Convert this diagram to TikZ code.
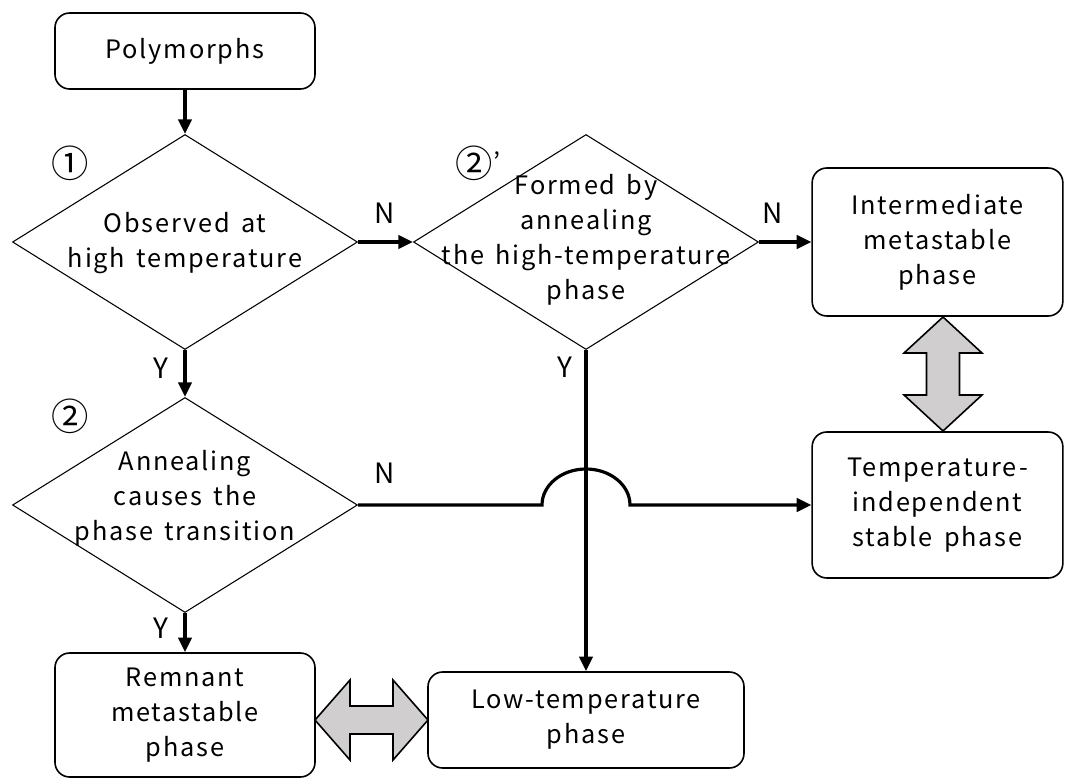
\documentclass[tikz,border=0pt]{standalone}
\usepackage{fontspec}
\setmainfont{Noto Sans CJK JP}[LetterSpace=7,WordSpace=1.5]
\usetikzlibrary{shapes.geometric,arrows.meta}
\definecolor{swapgray}{RGB}{208,206,206}

\tikzset{
  phasebox/.style={draw, rounded corners=11pt, line width=1.2pt, align=center,
    font=\fontsize{19}{26.25}\selectfont, inner sep=0pt},
  decision/.style={draw=black, diamond, line width=0.8pt, inner sep=0pt,
    minimum width=258.75pt, minimum height=161.25pt},
  dtext/.style={align=center, font=\fontsize{19}{26.25}\selectfont, inner sep=0pt},
  yn/.style={font=\fontsize{21}{24}\selectfont, inner sep=0pt},
  stepno/.style={font=\fontsize{28}{30}\selectfont, inner sep=0pt},
  flow/.style={line width=2.4pt, -{Triangle[length=11pt,width=10pt]}},
  swap/.style={draw, fill=swapgray, line width=1.2pt, line join=miter},
}

\begin{document}
\begin{tikzpicture}[x=0.75pt,y=-0.75pt]
  \useasboundingbox (0,0) rectangle (1065,778);

  % boxes
  \node[phasebox, minimum width=195pt, minimum height=57pt] (poly) at (185,51) {Polymorphs};
  \node[phasebox, minimum width=188pt, minimum height=111pt] (inter) at (937.5,242) {Intermediate\\metastable\\phase};
  \node[phasebox, minimum width=188pt, minimum height=109.5pt] (tind) at (937.5,505) {Temperature-\\independent\\stable phase};
  \node[phasebox, minimum width=195pt, minimum height=93pt] (rem) at (185,715) {Remnant\\metastable\\phase};
  \node[phasebox, minimum width=237pt, minimum height=72pt] (lowt) at (586,720) {Low-temperature\\phase};

  % decisions
  \node[decision] (d1) at (185,242) {};
  \node[dtext] (t1) at (185,243) {Observed at\\high temperature};
  \node[decision] (d2p) at (586,242) {};
  \node[dtext] (t2p) at (586,240) {Formed by\\annealing\\the high-temperature\\phase};
  \node[decision] (d2) at (185,505) {};
  \node[dtext] (t2) at (185,498) {Annealing\\causes the\\phase transition};

  % step numbers
  \node[stepno] (n1) at (70,163) {①};
  \node[stepno] (n2p) at (478,163) {②{\fontsize{19}{22}\selectfont\raisebox{4pt}{’}}};
  \node[stepno] (n2) at (70,416) {②};

  % connectors
  \draw[flow] (poly) -- (d1);
  \draw[flow] (d1) -- (d2p);
  \draw[flow] (d2p) -- (inter);
  \draw[flow] (d1) -- (d2);
  \draw[flow] (d2) -- (rem);
  \draw[flow] (d2p) -- (lowt);
  \coordinate (hop) at (542,505);
  \draw[flow] (d2.east) -- (hop) arc[start angle=180, end angle=360, x radius=44, y radius=36] -- (tind.west);

  % branch labels
  \node[yn] (n-a) at (385,213) {N};
  \node[yn] (n-b) at (773,213) {N};
  \node[yn] (n-c) at (385,473) {N};
  \node[yn] (y-a) at (161,368) {Y};
  \node[yn] (y-b) at (565,367) {Y};
  \node[yn] (y-c) at (161,628) {Y};

  % two-way arrows
  \draw[swap] (943,317) -- (982,353) -- (959.5,353) -- (959.5,395) -- (982,395) -- (943,431)
    -- (904,395) -- (926.5,395) -- (926.5,353) -- (904,353) -- cycle;
  \draw[swap] (315,720) -- (350,680) -- (350,706) -- (393,706) -- (393,680) -- (428,720)
    -- (393,760) -- (393,734) -- (350,734) -- (350,760) -- cycle;
\end{tikzpicture}
\end{document}
